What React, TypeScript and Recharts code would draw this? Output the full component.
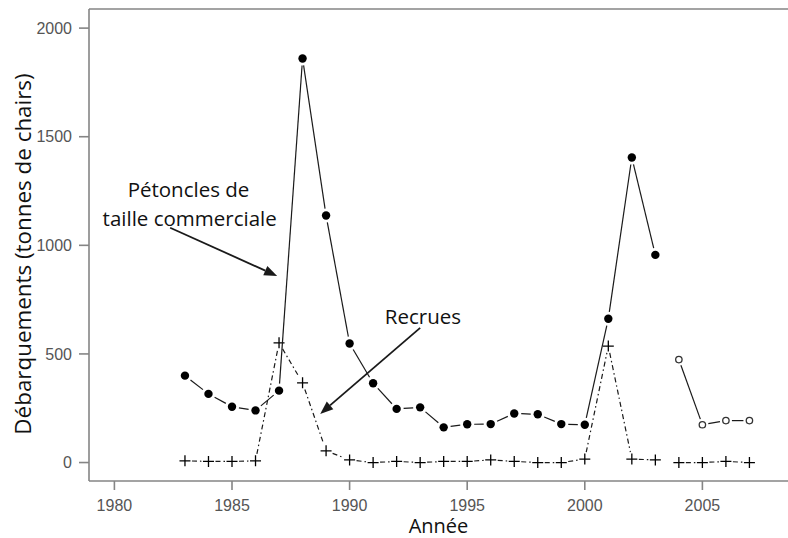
import React from "react";
import { LineChart, Line, XAxis, YAxis, ReferenceLine, ReferenceDot, Label } from "recharts";

const YEARS = [1983, 1984, 1985, 1986, 1987, 1988, 1989, 1990, 1991, 1992, 1993, 1994, 1995, 1996, 1997, 1998, 1999, 2000, 2001, 2002, 2003, 2004, 2005, 2006, 2007];
const COMMERCIAL = [400, 316, 257, 240, 331, 1860, 1137, 548, 365, 247, 254, 162, 176, 177, 226, 222, 177, 174, 662, 1404, 956, null, null, null, null];
const SURVEY = [null, null, null, null, null, null, null, null, null, null, null, null, null, null, null, null, null, null, null, null, null, 474, 174, 193, 193];
const RECRUITS_A = [8, 5, 5, 8, 551, 367, 54, 12, 0, 5, 0, 5, 5, 12, 5, 0, 0, 16, 536, 16, 12, null, null, null, null];
const RECRUITS_B = [null, null, null, null, null, null, null, null, null, null, null, null, null, null, null, null, null, null, null, null, null, 0, 0, 5, 0];

const X_TICKS = [1980, 1985, 1990, 1995, 2000, 2005];
const Y_TICKS = [0, 500, 1000, 1500, 2000];
const X_DOMAIN: [number, number] = [1978.92, 2008.64];
const Y_DOMAIN: [number, number] = [-85, 2088];

const data = YEARS.map((year, i) => ({
  year,
  commercial: COMMERCIAL[i],
  survey: SURVEY[i],
  recA: RECRUITS_A[i],
  recB: RECRUITS_B[i],
}));

const AXIS = "#858585";
const INK = "#1a1a1a";
const LABEL_FONT = "'Open Sans', 'Noto Sans', sans-serif";
const TICK_FONT = "'Liberation Sans', Arial, sans-serif";

const isNum = (v: any) => typeof v === "number" && !isNaN(v);

const makeDot = (kind: "filled" | "open" | "plus", gap: number, dash?: string) => (props: any) => {
  const { cx, cy, index, points } = props;
  if (!isNum(cx) || !isNum(cy)) return <g key={`e${kind}${index}`} />;
  const next = points ? points[index + 1] : null;
  let seg = null;
  if (next && isNum(next.x) && isNum(next.y)) {
    const dx = next.x - cx;
    const dy = next.y - cy;
    const len = Math.hypot(dx, dy);
    if (len > 2 * gap) {
      const ux = dx / len;
      const uy = dy / len;
      seg = (
        <line
          x1={cx + ux * gap}
          y1={cy + uy * gap}
          x2={next.x - ux * gap}
          y2={next.y - uy * gap}
          stroke={INK}
          strokeWidth={1.2}
          strokeDasharray={dash}
        />
      );
    }
  }
  let marker;
  if (kind === "filled") marker = <circle cx={cx} cy={cy} r={4.2} fill="#000" />;
  else if (kind === "open") marker = <circle cx={cx} cy={cy} r={3.2} fill="#fff" stroke="#333" strokeWidth={1.3} />;
  else
    marker = (
      <path d={`M${cx - 5.5},${cy}H${cx + 5.5}M${cx},${cy - 5.5}V${cy + 5.5}`} stroke="#000" strokeWidth={1.3} fill="none" />
    );
  return (
    <g key={`d${kind}${index}`}>
      {seg}
      {marker}
    </g>
  );
};

const Arrow = (props: any) => {
  const { x1, y1, x2, y2 } = props;
  if (!isNum(x1) || !isNum(y2)) return null;
  const dx = x2 - x1;
  const dy = y2 - y1;
  const len = Math.hypot(dx, dy);
  const ux = dx / len;
  const uy = dy / len;
  const hl = 13;
  const hw = 5;
  const bx = x2 - ux * hl;
  const by = y2 - uy * hl;
  return (
    <g>
      <line x1={x1} y1={y1} x2={bx} y2={by} stroke={INK} strokeWidth={1.8} />
      <polygon
        points={`${x2},${y2} ${bx - uy * hw},${by + ux * hw} ${bx + uy * hw},${by - ux * hw}`}
        fill={INK}
      />
    </g>
  );
};

const textShape = (txt: string, size: number) => (props: any) => (
  <text
    x={props.cx}
    y={props.cy}
    textAnchor="middle"
    dominantBaseline="central"
    fontFamily={LABEL_FONT}
    fontSize={size}
    fill="#111"
  >
    {txt}
  </text>
);

export default function App() {
  return (
    <div style={{ position: "absolute", left: 0, top: 0, background: "#fff" }}>
      <LineChart width={788} height={538} data={data} margin={{ top: 9, right: 0, bottom: 0, left: 0 }}>
        <XAxis
          dataKey="year"
          type="number"
          domain={X_DOMAIN}
          allowDataOverflow
          ticks={X_TICKS}
          height={57}
          stroke={AXIS}
          strokeWidth={1.6}
          tickSize={9}
          tickMargin={10}
          tick={{ fill: "#555", fontSize: 16, fontFamily: TICK_FONT }}
        >
          <Label
            content={(p: any) => (
              <text
                x={p.viewBox.x + p.viewBox.width / 2}
                y={p.viewBox.y + 51.5}
                textAnchor="middle"
                fontFamily={LABEL_FONT}
                fontSize={20}
                fill="#111"
              >
                Année
              </text>
            )}
          />
        </XAxis>
        <YAxis
          type="number"
          domain={Y_DOMAIN}
          allowDataOverflow
          ticks={Y_TICKS}
          width={89}
          stroke={AXIS}
          strokeWidth={1.6}
          tickSize={10}
          tickMargin={7}
          tick={{ fill: "#555", fontSize: 16, fontFamily: TICK_FONT }}
        >
          <Label
            content={(p: any) => (
              <text
                x={p.viewBox.x + 22}
                y={254}
                transform={`rotate(-90, ${p.viewBox.x + 22}, 254)`}
                textAnchor="middle"
                dominantBaseline="central"
                fontFamily={LABEL_FONT}
                fontSize={22.4}
                fill="#111"
              >
                Débarquements (tonnes de chairs)
              </text>
            )}
          />
        </YAxis>
        <ReferenceLine y={Y_DOMAIN[1]} stroke={AXIS} strokeWidth={1.6} />
        <Line dataKey="recA" stroke="none" isAnimationActive={false} dot={makeDot("plus", 7, "5 3 1.5 3")} activeDot={false} />
        <Line dataKey="recB" stroke="none" isAnimationActive={false} dot={makeDot("plus", 7, "5 3 1.5 3")} activeDot={false} />
        <Line dataKey="commercial" stroke="none" isAnimationActive={false} dot={makeDot("filled", 7)} activeDot={false} />
        <Line dataKey="survey" stroke="none" isAnimationActive={false} dot={makeDot("open", 6)} activeDot={false} />
        <ReferenceLine
          segment={[{ x: 1982.37, y: 1081 }, { x: 1986.92, y: 859 }]}
          ifOverflow="visible"
          shape={Arrow}
        />
        <ReferenceLine
          segment={[{ x: 1993.0, y: 620 }, { x: 1988.75, y: 224 }]}
          ifOverflow="visible"
          shape={Arrow}
        />
        <ReferenceDot x={1983.15} y={1258} r={0} ifOverflow="visible" shape={textShape("Pétoncles de", 20.5)} />
        <ReferenceDot x={1983.2} y={1126} r={0} ifOverflow="visible" shape={textShape("taille commerciale", 20.5)} />
        <ReferenceDot x={1993.12} y={675} r={0} ifOverflow="visible" shape={textShape("Recrues", 20.5)} />
      </LineChart>
    </div>
  );
}
